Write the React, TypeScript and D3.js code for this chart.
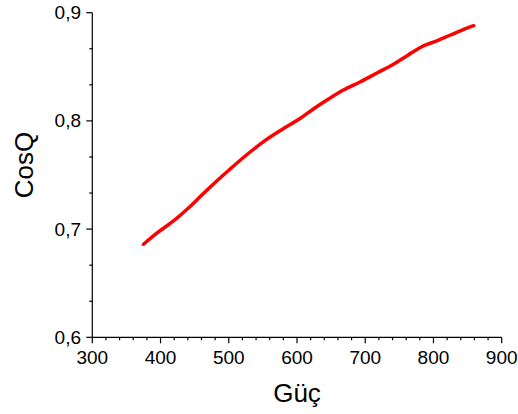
import React from "react";
import * as d3 from "d3";

const power = [375, 395, 419, 440, 459, 480, 502, 525, 551, 578, 605, 625, 644, 668, 693, 718, 742, 763, 786, 805, 825, 842, 859];
const cosQ = [0.686, 0.6965, 0.7075, 0.719, 0.7305, 0.743, 0.7555, 0.768, 0.7808, 0.792, 0.8024, 0.8115, 0.8193, 0.8285, 0.8362, 0.8445, 0.8526, 0.861, 0.8695, 0.874, 0.8794, 0.884, 0.888];
const xTicks = [300, 400, 500, 600, 700, 800, 900];
const yTicks = [0.6, 0.7, 0.8, 0.9];
const xTitle = "Güç";
const yTitle = "CosQ";

export default function App() {
  const W = 518, H = 414;
  const x = d3.scaleLinear().domain([300, 900]).range([92.3, 501.7]);
  const y = d3.scaleLinear().domain([0.6, 0.9]).range([337.3, 12.7]);
  const xMinor = d3.range(300, 900.1, 20).filter((v) => v % 100 !== 0);
  const yMinor = d3.range(0, 9).map((i) => 0.6 + (i * 0.1) / 3).filter((_, i) => i % 3 !== 0);
  const line = d3.line<number>().x((_, i) => x(power[i])).y((d) => y(d)).curve(d3.curveMonotoneX);
  const font = "'Liberation Sans', Arial, sans-serif";
  return (
    <svg width={W} height={H} style={{ position: "absolute", left: 0, top: 0, background: "#fff" }} fontFamily={font}>
      <line x1={x(300)} x2={x(900)} y1={y(0.6)} y2={y(0.6)} stroke="#000" strokeWidth={1.2} />
      <line x1={x(300)} x2={x(300)} y1={y(0.6)} y2={y(0.9)} stroke="#000" strokeWidth={1.2} />
      {xTicks.map((t) => (
        <g key={"x" + t}>
          <line x1={x(t)} x2={x(t)} y1={y(0.6)} y2={y(0.6) + 6} stroke="#000" strokeWidth={1.2} />
          <text x={x(t)} y={364.3} fontSize={19} textAnchor="middle" fill="#000">{t}</text>
        </g>
      ))}
      {xMinor.map((t) => (
        <line key={"xm" + t} x1={x(t)} x2={x(t)} y1={y(0.6)} y2={y(0.6) + 3} stroke="#000" strokeWidth={1.2} />
      ))}
      {yTicks.map((t) => (
        <g key={"y" + t}>
          <line x1={x(300) - 6} x2={x(300)} y1={y(t)} y2={y(t)} stroke="#000" strokeWidth={1.2} />
          <text x={81} y={y(t) + 6.5} fontSize={19} textAnchor="end" fill="#000">{t.toFixed(1).replace(".", ",")}</text>
        </g>
      ))}
      {yMinor.map((t, i) => (
        <line key={"ym" + i} x1={x(300) - 3} x2={x(300)} y1={y(t)} y2={y(t)} stroke="#000" strokeWidth={1.2} />
      ))}
      <path d={line(cosQ) || ""} fill="none" stroke="#ff0000" strokeWidth={3.5} strokeLinecap="round" strokeLinejoin="round" />
      <text x={297} y={402} fontSize={26} textAnchor="middle" fill="#000">{xTitle}</text>
      <text transform={`translate(33,${165}) rotate(-90)`} fontSize={26} textAnchor="middle" fill="#000">{yTitle}</text>
    </svg>
  );
}
